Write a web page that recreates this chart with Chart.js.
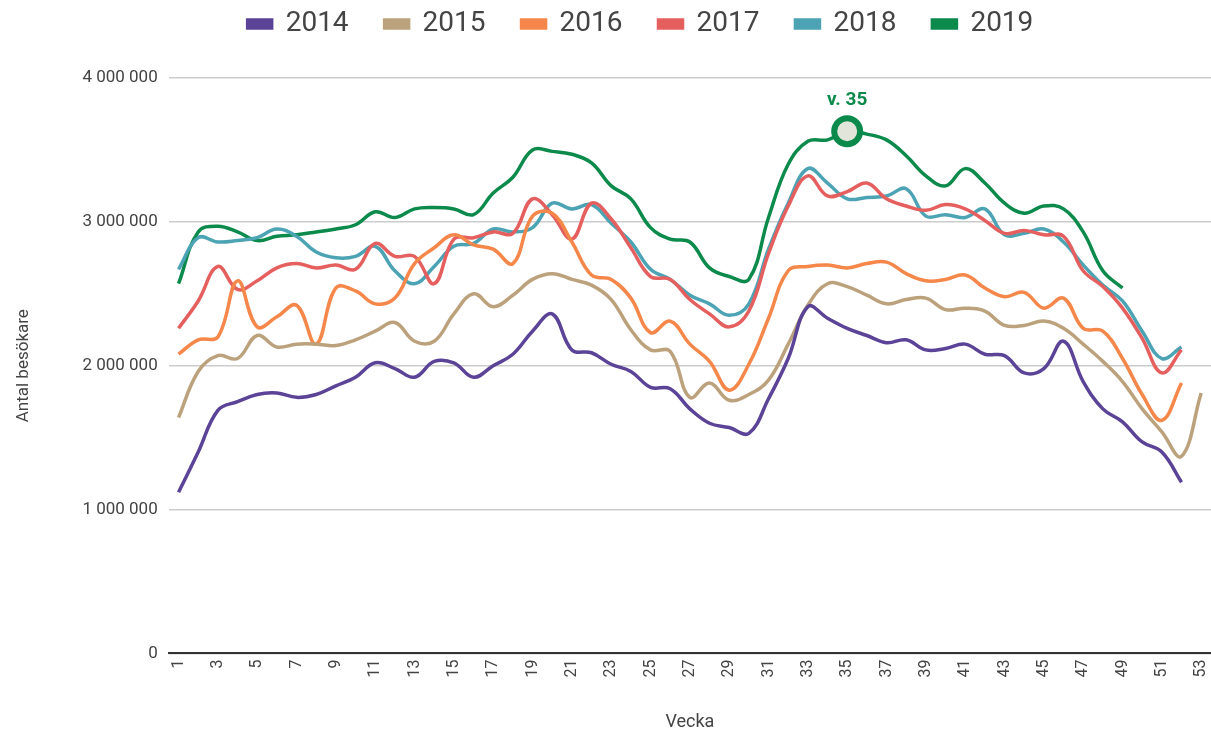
<!DOCTYPE html>
<html>
<head>
<meta charset="utf-8">
<script src="https://cdn.jsdelivr.net/npm/chart.js@4"></script>
<style>
  html, body { margin: 0; padding: 0; background: #fff; }
  #wrap { width: 1211px; height: 733px; }
</style>
</head>
<body>
<div id="wrap"><canvas id="visitChart"></canvas></div>
<script>
// veckor 1-53
const weeks = [];
for (let w = 1; w <= 53; w++) weeks.push(String(w));

const years = ["2014", "2015", "2016", "2017", "2018", "2019"];

const v2014 = [1.12,1.40,1.69,1.75,1.80,1.81,1.78,1.80,1.86,1.92,2.02,1.98,1.92,2.03,2.02,1.92,2.00,2.08,2.24,2.36,2.11,2.09,2.01,1.96,1.85,1.84,1.70,1.60,1.57,1.53,1.77,2.05,2.41,2.33,2.26,2.21,2.16,2.18,2.11,2.12,2.15,2.08,2.07,1.95,1.98,2.17,1.89,1.70,1.61,1.47,1.40,1.19];
const v2015 = [1.64,1.96,2.07,2.05,2.21,2.13,2.15,2.15,2.14,2.18,2.24,2.30,2.17,2.17,2.36,2.50,2.41,2.49,2.60,2.64,2.60,2.56,2.46,2.25,2.11,2.10,1.78,1.88,1.76,1.80,1.90,2.15,2.42,2.57,2.55,2.49,2.43,2.46,2.47,2.39,2.40,2.38,2.28,2.28,2.31,2.26,2.15,2.03,1.89,1.70,1.54,1.37,1.81];
const v2016 = [2.08,2.18,2.20,2.59,2.27,2.34,2.42,2.15,2.54,2.52,2.43,2.47,2.71,2.82,2.91,2.84,2.81,2.71,3.04,3.06,2.86,2.63,2.60,2.47,2.23,2.31,2.15,2.03,1.83,2.01,2.33,2.66,2.69,2.70,2.68,2.71,2.72,2.64,2.59,2.60,2.63,2.54,2.48,2.51,2.40,2.47,2.26,2.24,2.05,1.80,1.62,1.88];
const v2017 = [2.26,2.45,2.69,2.53,2.59,2.68,2.71,2.68,2.70,2.67,2.85,2.76,2.76,2.57,2.88,2.89,2.93,2.92,3.16,3.05,2.88,3.13,3.02,2.82,2.62,2.60,2.46,2.36,2.27,2.38,2.78,3.11,3.32,3.18,3.21,3.27,3.16,3.11,3.08,3.12,3.09,3.01,2.92,2.94,2.91,2.90,2.66,2.55,2.40,2.19,1.95,2.11];
const v2018 = [2.67,2.89,2.86,2.87,2.89,2.95,2.90,2.79,2.75,2.76,2.83,2.66,2.57,2.69,2.83,2.85,2.95,2.93,2.96,3.13,3.09,3.12,2.99,2.86,2.67,2.60,2.49,2.43,2.35,2.43,2.81,3.13,3.37,3.27,3.16,3.17,3.18,3.23,3.04,3.05,3.03,3.09,2.91,2.92,2.95,2.86,2.70,2.56,2.45,2.24,2.05,2.13];
const v2019 = [2.57,2.93,2.97,2.93,2.87,2.90,2.91,2.93,2.95,2.98,3.07,3.03,3.09,3.10,3.09,3.05,3.20,3.31,3.50,3.49,3.47,3.41,3.25,3.16,2.96,2.88,2.86,2.68,2.62,2.60,3.03,3.40,3.56,3.57,3.63,3.61,3.57,3.46,3.32,3.25,3.37,3.27,3.13,3.06,3.11,3.09,2.93,2.66,2.54];

const colors = ["#5b4397", "#bba27c", "#f5874a", "#e55f5f", "#4ba3b4", "#0b8a4c"];
const series = [v2014, v2015, v2016, v2017, v2018, v2019];

const highlightWeek = 35;      // markerad vecka för 2019
const highlightLabel = "v. 35";

const yTicks = [0, 1000000, 2000000, 3000000, 4000000];

Chart.defaults.font.family = "Roboto, 'Noto Sans', sans-serif";
Chart.defaults.color = "#444";

const datasets = series.map((vals, i) => {
  const isLast = i === series.length - 1;
  return {
    label: years[i],
    data: vals.map(v => Math.round(v * 1000000)),
    borderColor: colors[i],
    backgroundColor: colors[i],
    borderWidth: 3.5,
    tension: 0.4,
    fill: false,
    pointRadius: isLast ? (c => c.dataIndex === highlightWeek - 1 ? 13 : 0) : 0,
    pointHoverRadius: 0,
    pointBorderWidth: 6,
    pointBackgroundColor: "#e2e5da",
    pointBorderColor: colors[i]
  };
});

// text ovanför markerad punkt
const weekLabel = {
  id: "weekLabel",
  afterDatasetsDraw(chart) {
    const meta = chart.getDatasetMeta(series.length - 1);
    const pt = meta.data[highlightWeek - 1];
    if (!pt) return;
    const ctx = chart.ctx;
    ctx.save();
    ctx.font = "bold 19px Roboto, sans-serif";
    ctx.fillStyle = colors[series.length - 1];
    ctx.textAlign = "center";
    ctx.textBaseline = "bottom";
    ctx.fillText(highlightLabel, pt.x, pt.y - 21);
    ctx.restore();
  }
};

// mer luft under legenden, och legenden lite åt höger
const legendGap = {
  id: "legendGap",
  beforeInit(chart) {
    const fit = chart.legend.fit;
    chart.legend.fit = function () {
      fit.bind(chart.legend)();
      this.height += 30;
    };
  },
  afterLayout(chart) {
    chart.legend.left += 28;
    chart.legend.right += 28;
  }
};

new Chart(document.getElementById("visitChart"), {
  type: "line",
  data: { labels: weeks, datasets: datasets },
  plugins: [weekLabel, legendGap],
  options: {
    responsive: true,
    maintainAspectRatio: false,
    animation: false,
    layout: { padding: { left: 14, right: 0, top: -26, bottom: 0 } },
    plugins: {
      tooltip: { enabled: false },
      legend: {
        position: "top",
        labels: {
          boxWidth: 24,
          boxHeight: 8,
          padding: 36,
          color: "#444",
          font: { size: 28 }
        }
      }
    },
    scales: {
      x: {
        offset: true,
        afterFit: s => { s.paddingLeft = 0; s.paddingRight = 0; },
        grid: { display: false, drawTicks: false },
        border: { display: true, color: "#333", width: 2 },
        ticks: {
          autoSkip: false,
          maxRotation: 90,
          minRotation: 90,
          padding: 6,
          font: { size: 16 },
          color: "#444",
          callback: function (val, idx) { return idx % 2 === 0 ? weeks[idx] : ""; }
        },
        title: { display: true, text: "Vecka", font: { size: 18 }, color: "#444", padding: { top: 28, bottom: 0 } }
      },
      y: {
        min: 0,
        max: 4000000,
        afterBuildTicks: axis => { axis.ticks = yTicks.map(v => ({ value: v })); },
        grid: { color: "#cccccc", lineWidth: 1.5, drawTicks: false },
        border: { display: false },
        ticks: {
          padding: 11,
          font: { size: 17 },
          color: "#444",
          callback: v => String(v).replace(/\B(?=(\d{3})+(?!\d))/g, " ")
        },
        title: { display: true, text: "Antal besökare", font: { size: 17 }, color: "#444", padding: { top: 0, bottom: 37 } }
      }
    }
  }
});
</script>
</body>
</html>
